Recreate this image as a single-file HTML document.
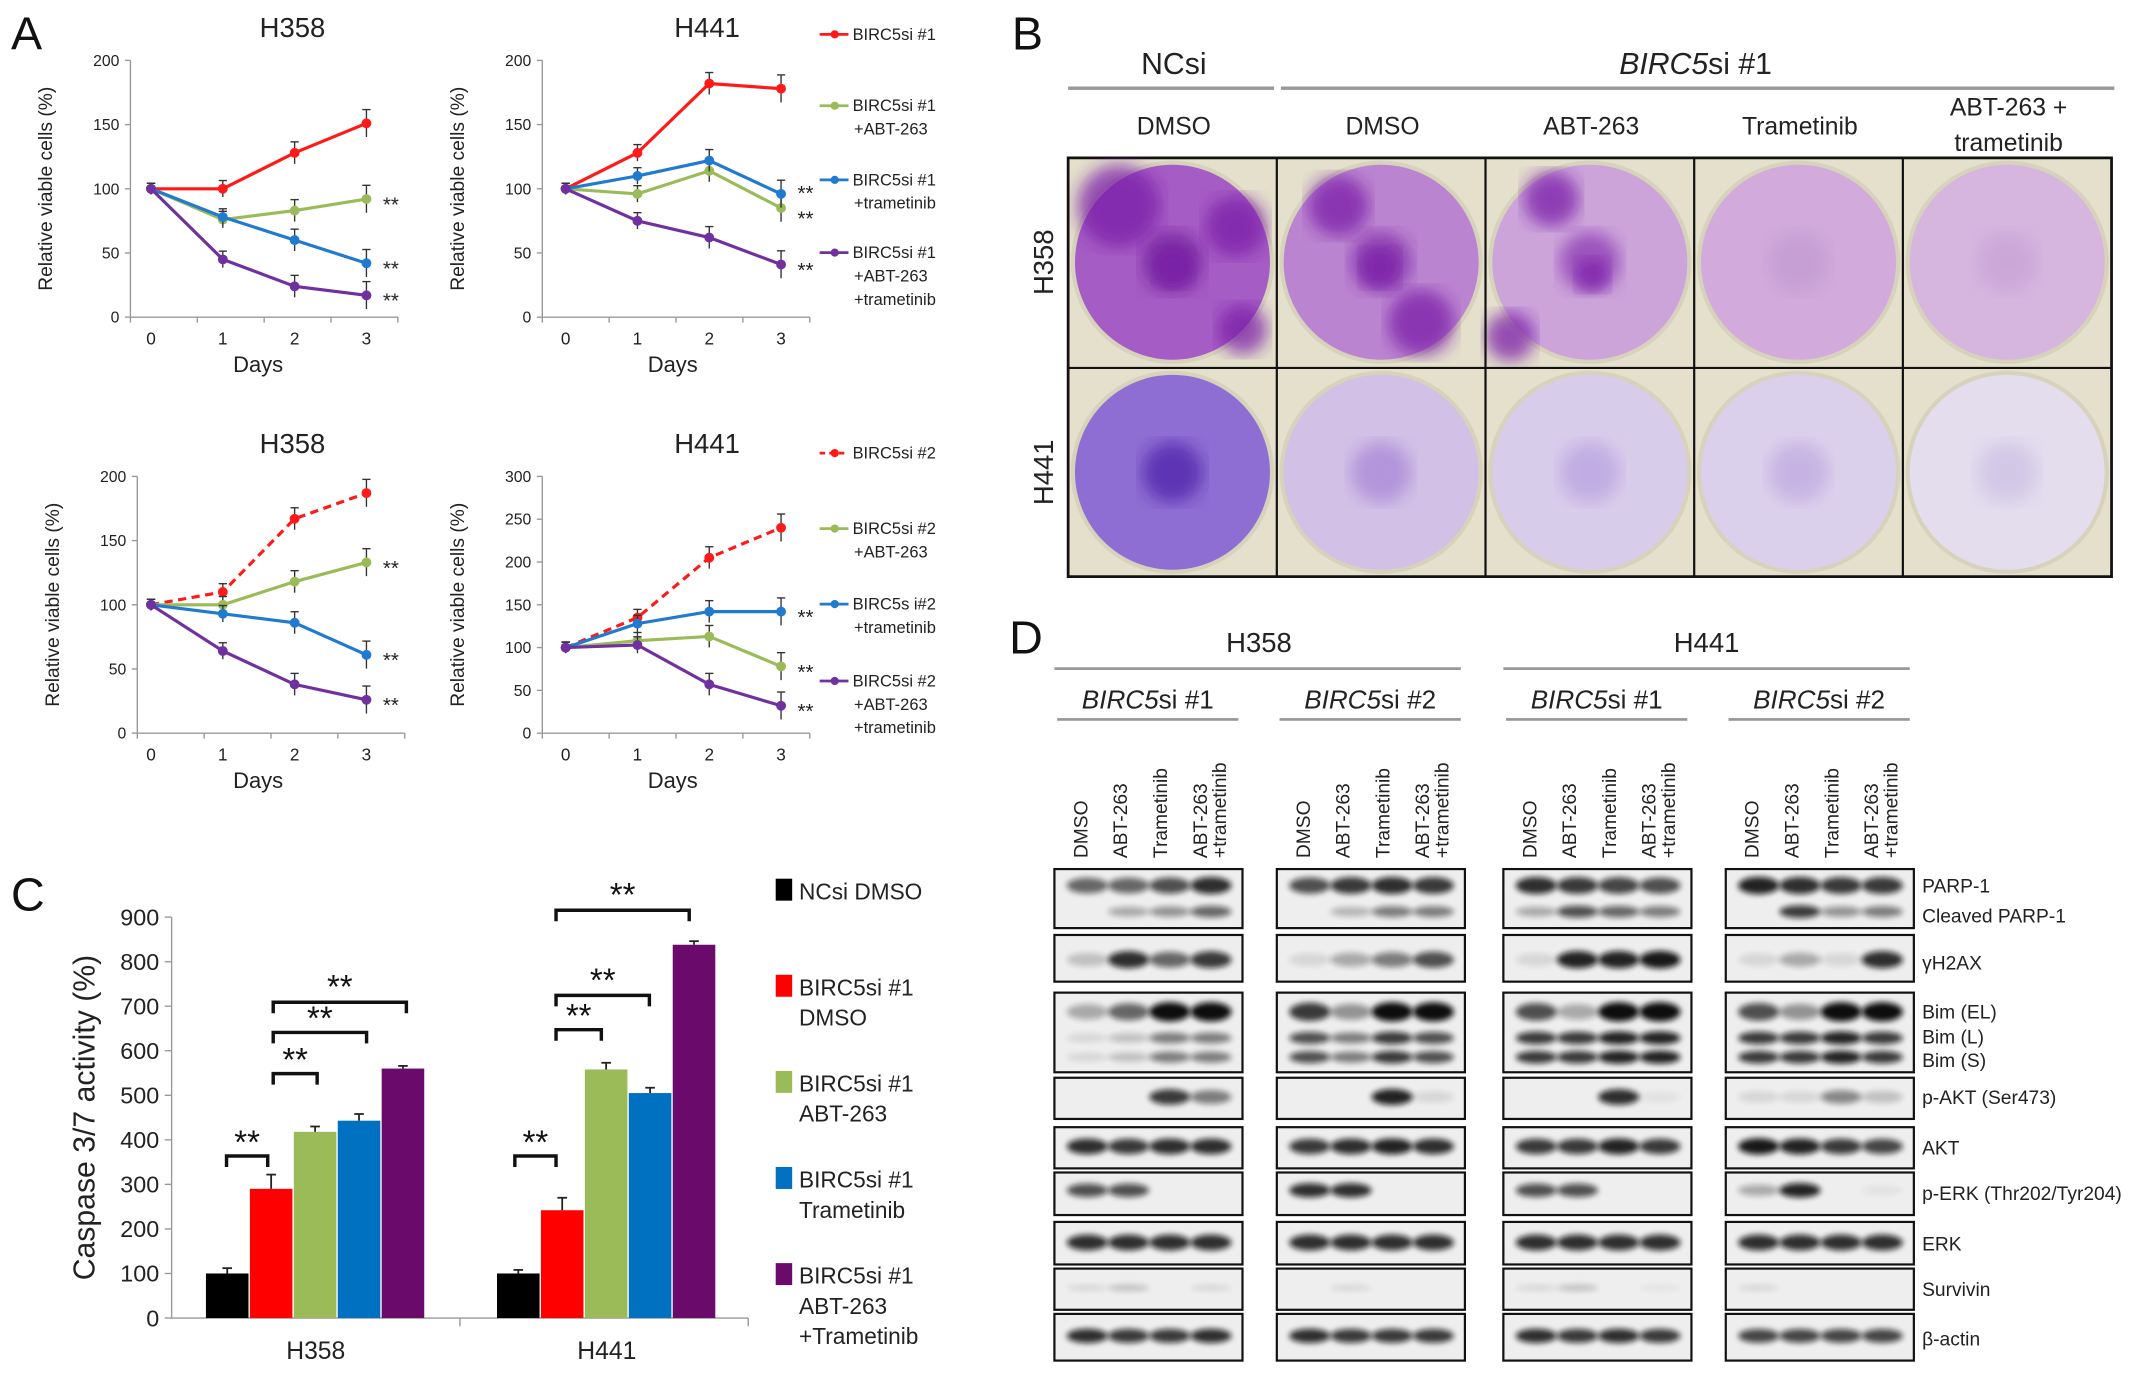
<!DOCTYPE html>
<html><head><meta charset="utf-8">
<style>
html,body{margin:0;padding:0;background:#fff;}
svg{display:block;font-family:"Liberation Sans",sans-serif;}
</style></head>
<body>
<svg id="fig" width="2150" height="1375" viewBox="0 0 1566 1001.5" preserveAspectRatio="none" xmlns="http://www.w3.org/2000/svg">
<defs>
<filter id="blur" x="-30%" y="-100%" width="160%" height="300%"><feGaussianBlur stdDeviation="2.2"/></filter>
<filter id="blur2"><feGaussianBlur stdDeviation="6"/></filter>
<filter id="blur3"><feGaussianBlur stdDeviation="1.2"/></filter>
</defs>
<g id="layer"></g>
</svg>
<script>
// ---------- Panel A data ----------
const days = [0,1,2,3];
const a1Red = [100,100,128,151], a1Green=[100,76,83,92], a1Blue=[100,78,60,42], a1Purple=[100,45,24,17];
const a2Red = [100,128,182,178], a2Green=[100,96,114,85], a2Blue=[100,110,122,96], a2Purple=[100,75,62,41];
const a3Red = [100,110,167,187], a3Green=[100,100,118,133], a3Blue=[100,93,86,61], a3Purple=[100,64,38,26];
const a4Red = [100,135,205,240], a4Green=[100,108,113,78], a4Blue=[100,128,142,142], a4Purple=[100,103,57,32];
const ticks200 = [0,50,100,150,200];
const ticks300 = [0,50,100,150,200,250,300];
// ---------- Panel C data ----------
const cGroups = ["H358","H441"];
const cH358 = [100,290,418,443,560];
const cH441 = [100,242,558,505,838];
const cErrH358 = [12,32,12,15,6];
const cErrH441 = [8,28,15,12,8];
const cTicks = [0,100,200,300,400,500,600,700,800,900];
const cLegend = [["NCsi DMSO"],["BIRC5si #1","DMSO"],["BIRC5si #1","ABT-263"],["BIRC5si #1","Trametinib"],["BIRC5si #1","ABT-263","+Trametinib"]];
// ---------- Panel D band intensities (16 lanes) ----------
const bParp = [.6,.6,.7,.85, .7,.8,.85,.8, .85,.8,.75,.7, .9,.85,.8,.8];
const bCleaved = [0,.3,.4,.6, 0,.25,.5,.5, .3,.7,.6,.5, 0,.8,.4,.5];
const bH2ax = [.2,.85,.6,.8, .1,.3,.5,.7, .1,.9,.9,.95, .1,.3,.1,.85];
const bBimEL = [.3,.6,1,1, .8,.4,1,1, .7,.3,1,1, .7,.4,1,1];
const bBimL = [.1,.2,.5,.5, .7,.5,.8,.7, .8,.8,.9,.9, .8,.8,.9,.8];
const bPakt = [0,0,.8,.5, 0,0,.9,.1, 0,0,.85,.05, .1,.1,.45,.2];
const bAkt = [.85,.8,.85,.85, .8,.85,.9,.85, .8,.8,.9,.8, .95,.9,.8,.75];
const bPerk = [.7,.7,0,0, .85,.85,0,0, .7,.7,0,0, .3,.9,0,.05];
const bErk = [.85,.85,.85,.85, .85,.85,.85,.85, .85,.85,.85,.85, .85,.85,.85,.85];
const bSurv = [.1,.2,0,.1, 0,.1,0,0, .1,.2,0,.05, .1,0,0,0];
const bActin = [.85,.8,.8,.85, .85,.8,.8,.8, .85,.8,.85,.8, .75,.75,.75,.75];

const NS="http://www.w3.org/2000/svg";
const root=document.getElementById('layer');
function el(tag,attrs,parent,text){const e=document.createElementNS(NS,tag);for(const k in attrs)e.setAttribute(k,attrs[k]);if(text!==undefined)e.textContent=text;(parent||root).appendChild(e);return e;}
function txt(x,y,s,size,opts,parent){opts=opts||{};const t=el('text',Object.assign({x:x,y:y,'font-size':size,'text-anchor':opts.anchor||'middle',fill:opts.fill||'#222'},opts.extra||{}),parent,s);return t;}

[["A",8,36],["B",737,36],["C",8,663],["D",735,476]].forEach(p=>{const t=txt(p[1],p[2],p[0],34,{anchor:'start',fill:'#111'});});

// ---------- Line charts ----------
const COL={red:'#ff1a1a',green:'#9bbb59',blue:'#1f7ad0',purple:'#7030a0'};
function lineChart(name,ax,x0,top,bottom,ymax,yticks,title,series,stars){
  const g=el('g',{});
  const xs=d=>x0+15+d*52.3; const ys=v=>bottom-(v/ymax)*(bottom-top);
  const tt=txt(x0+118,top-17,title,20,{fill:'#222'},g);
  el('line',{x1:ax,y1:top,x2:ax,y2:bottom,stroke:'#999','stroke-width':1},g);
  el('line',{x1:ax,y1:bottom,x2:ax+195,y2:bottom,stroke:'#999','stroke-width':1},g);
  yticks.forEach(v=>{el('line',{x1:ax-4,y1:ys(v),x2:ax,y2:ys(v),stroke:'#999'},g);const t=txt(ax-8,ys(v)+4,String(v),11.5,{anchor:'end'},g);});
  for(let i=0;i<=4;i++){const xx=ax+i*48.7;el('line',{x1:xx,y1:bottom,x2:xx,y2:bottom+4,stroke:'#999'},g);}
  days.forEach(d=>{const t=txt(xs(d),bottom+20,String(d),12.5,{},g);});
  const xt=txt(x0+93,bottom+40,'Days',16,{},g);
  const yt=txt(0,0,'Relative viable cells (%)',14,{extra:{transform:`translate(${ax-57},${(top+bottom)/2}) rotate(-90)`}},g);
  series.forEach(s=>{
    const pts=s.vals.map((v,i)=>xs(days[i])+','+ys(v)).join(' ');
    const pl=el('polyline',{points:pts,fill:'none',stroke:COL[s.c],'stroke-width':2.3,'stroke-dasharray':s.dash?'6,4':'none'},g);
    
    s.vals.forEach((v,i)=>{const x=xs(days[i]),y=ys(v),e=4+(i*2);
      el('line',{x1:x,y1:y-e,x2:x,y2:y+e,stroke:'#333','stroke-width':1},g);
      el('line',{x1:x-3,y1:y-e,x2:x+3,y2:y-e,stroke:'#333','stroke-width':1},g);
      const m=el('circle',{cx:x,cy:y,r:3.6,fill:COL[s.c]},g);});
  });
  stars.forEach(v=>{const t=txt(xs(3)+12,ys(v)+9,'**',15,{anchor:'start',fill:'#222'},g);});
}
lineChart('chart-h358-si1',95,95,44,231,200,ticks200,'H358',[{vals:a1Red,c:'red'},{vals:a1Green,c:'green'},{vals:a1Blue,c:'blue'},{vals:a1Purple,c:'purple'}],[a1Green[3],a1Blue[3],a1Purple[3]]);
lineChart('chart-h441-si1',395,397,44,231,200,ticks200,'H441',[{vals:a2Red,c:'red'},{vals:a2Green,c:'green'},{vals:a2Blue,c:'blue'},{vals:a2Purple,c:'purple'}],[a2Blue[3]+5,a2Green[3]-4,a2Purple[3]]);
lineChart('chart-h358-si2',100,95,347,534,200,ticks200,'H358',[{vals:a3Red,c:'red',dash:1},{vals:a3Green,c:'green'},{vals:a3Blue,c:'blue'},{vals:a3Purple,c:'purple'}],[a3Green[3],a3Blue[3],a3Purple[3]]);
lineChart('chart-h441-si2',395,397,347,534,300,ticks300,'H441',[{vals:a4Red,c:'red',dash:1},{vals:a4Green,c:'green'},{vals:a4Blue,c:'blue'},{vals:a4Purple,c:'purple'}],[a4Blue[3],a4Green[3],a4Purple[3]]);

function lineLegend(y,c,lines,dash){
  const g=el('g',{});
  el('line',{x1:597,y1:y,x2:618,y2:y,stroke:COL[c],'stroke-width':2,'stroke-dasharray':dash?'4,3':'none'},g);
  el('circle',{cx:608,cy:y,r:3,fill:COL[c]},g);
  lines.forEach((s,i)=>txt(i?622:621,y+4+i*17,s,12,{anchor:'start',fill:'#222'},g));
}
lineLegend(25,'red',['BIRC5si #1']);lineLegend(77,'green',['BIRC5si #1','+ABT-263']);lineLegend(131,'blue',['BIRC5si #1','+trametinib']);lineLegend(184,'purple',['BIRC5si #1','+ABT-263','+trametinib']);
lineLegend(330,'red',['BIRC5si #2'],1);lineLegend(385,'green',['BIRC5si #2','+ABT-263']);lineLegend(440,'blue',['BIRC5s i#2','+trametinib']);lineLegend(496,'purple',['BIRC5si #2','+ABT-263','+trametinib']);

// ---------- Panel B ----------
(function(){
  const g=el('g',{});
  txt(855,54,'NCsi',22,{},g);
  const bt=el('text',{x:1235,y:54,'font-size':22,'text-anchor':'middle',fill:'#222'},g);
  el('tspan',{'font-style':'italic'},bt,'BIRC5');el('tspan',{},bt,'si #1');
  el('rect',{x:778,y:63,width:150,height:2.5,fill:'#999'},g);
  el('rect',{x:933,y:63,width:607,height:2.5,fill:'#999'},g);
  const heads=[["DMSO"],["DMSO"],["ABT-263"],["Trametinib"],["ABT-263 +","trametinib"]];
  heads.forEach((h,i)=>{const cx=855+i*152;if(h.length==1)txt(cx,98,h[0],18,{},g);else{txt(cx,84,h[0],18,{},g);txt(cx,110,h[1],18,{},g);}});
  el('rect',{x:778,y:115,width:760,height:305,fill:'#e4e0cc',stroke:'#111','stroke-width':2},g);
  const fills=[[['#8a2bb0','#a55cc4','#6b1596'],['#a05cc0','#bb84d0','#7a22a5'],['#b27ccb','#cca4da','#8830b0'],['#c9a0d6','#d2abdc','#c19ad2'],['#cfaedb','#d6b6df','#c7a2d6']],
               [['#6b3fc0','#8e6ed2','#4a1aa8'],['#c2a8e0','#d2c0e6','#a583d6'],['#cfbde6','#d8cceb','#b8a0e0'],['#d2c4e6','#dbd0ec','#bfa8e0'],['#ddd6ea','#e3ddee','#ccc0e4']]];
  for(let r=0;r<2;r++)for(let c=0;c<5;c++){
    const cx=854+c*152, cy=191+r*153;
    el('circle',{cx:cx,cy:cy,r:74,fill:'#d6d2bc'},g);
    const ci=el('circle',{cx:cx,cy:cy,r:71,fill:fills[r][c][1]},g);
    el('circle',{cx:cx,cy:cy,r:22,fill:fills[r][c][2],opacity:.7,filter:'url(#blur2)'},g);
  }
  [[815,150,30],[900,165,22],[905,240,18],[975,150,22],[1035,235,24],[1130,145,20],[1100,245,18],[855,195,14],[1005,195,14],[1160,200,12]].forEach(p=>el('circle',{cx:p[0],cy:p[1],r:p[2],fill:'#7a1fa8',opacity:.75,filter:'url(#blur2)'},g));
  for(let c=1;c<5;c++)el('line',{x1:778+c*152,y1:115,x2:778+c*152,y2:420,stroke:'#111','stroke-width':1.6},g);
  el('line',{x1:778,y1:268,x2:1538,y2:268,stroke:'#111','stroke-width':1.6},g);
  txt(0,0,'H358',20,{extra:{transform:'translate(767,191) rotate(-90)'}},g);
  txt(0,0,'H441',20,{extra:{transform:'translate(767,344) rotate(-90)'}},g);
})();

// ---------- Panel C ----------
(function(){
  const g=el('g',{});
  const y0=960, yTop=668, vmax=900, ys=v=>y0-v/vmax*(y0-yTop);
  el('line',{x1:125,y1:yTop,x2:125,y2:y0,stroke:'#999'},g);
  el('line',{x1:125,y1:y0,x2:545,y2:y0,stroke:'#999'},g);
  el('line',{x1:335,y1:y0,x2:335,y2:y0+6,stroke:'#999'},g);el('line',{x1:545,y1:y0,x2:545,y2:y0+6,stroke:'#999'},g);
  cTicks.forEach(v=>{el('line',{x1:120,y1:ys(v),x2:125,y2:ys(v),stroke:'#999'},g);const t=txt(116,ys(v)+6,String(v),17,{anchor:'end'},g);});
  const yt=txt(0,0,'Caspase 3/7 activity (%)',22,{extra:{transform:`translate(69,${(y0+yTop)/2}) rotate(-90)`}},g);
  const cols=['#000','#ff0000','#9bbb59','#0070c0','#6a0a6a'];
  [cH358,cH441].forEach((vals,gi)=>{
    const base=150+gi*212;const errs=gi?cErrH441:cErrH358;
    vals.forEach((v,i)=>{const x=base+i*32;const r=el('rect',{x:x,y:ys(v),width:31,height:y0-ys(v),fill:cols[i]},g);
      const ye=ys(v+errs[i]);el('line',{x1:x+15.5,y1:ys(v),x2:x+15.5,y2:ye,stroke:'#222','stroke-width':1.3},g);el('line',{x1:x+12,y1:ye,x2:x+19,y2:ye,stroke:'#222','stroke-width':1.3},g);});
    const t=txt(base+80,990,cGroups[gi],18,{},g);
  });
  function br(x1,x2,y,sy){const p=el('path',{d:`M${x1},${y+8} L${x1},${y} L${x2},${y} L${x2},${y+8}`,fill:'none',stroke:'#111','stroke-width':2.5},g);txt((x1+x2)/2,sy,'**',24,{fill:'#111'},g);}
  br(165,195,842,840);br(199,231,782,780);br(199,267,752,750);br(199,296,730,727);
  br(375,405,842,840);br(405,438,750,748);br(405,473,725,722);br(405,502,663,660);
  cLegend.forEach((l,i)=>{const y=648+i*70;const lg=el('g',{},g);
    el('rect',{x:565,y:y-8,width:12,height:16,fill:cols[i]},lg);
    l.forEach((s,j)=>txt(582,y+7+j*22,s,16.5,{anchor:'start',fill:'#222'},lg));});
})();

// ---------- Panel D ----------
(function(){
  const g=el('g',{});
  txt(917,475,'H358',20,{},g);txt(1243,475,'H441',20,{},g);
  el('rect',{x:768,y:486,width:296,height:2,fill:'#999'},g);el('rect',{x:1095,y:486,width:296,height:2,fill:'#999'},g);
  const gx=[768,930,1095,1257];
  gx.forEach((x,i)=>{const t=el('text',{x:x+68,y:516,'font-size':19,'text-anchor':'middle',fill:'#222'},g);el('tspan',{'font-style':'italic'},t,'BIRC5');el('tspan',{},t,'si #'+(i%2+1));
    el('rect',{x:x+2,y:523,width:132,height:2,fill:'#999'},g);
    const lanes=['DMSO','ABT-263','Trametinib','ABT-263'];
    lanes.forEach((l,j)=>{const lx=x+24+j*29;txt(0,0,l,14,{anchor:'start',extra:{transform:`translate(${lx},${625}) rotate(-90)`}},g);});
    txt(0,0,'+trametinib',14,{anchor:'start',extra:{transform:`translate(${x+24+3*29+14},${625}) rotate(-90)`}},g);
  });
  const rows=[[633,676],[681,715],[723,781],[785,815],[821,851],[854,885],[890,921],[924,954],[957,991]];
  const bandRows=[[bParp,645,9],[bCleaved,664,6],[bH2ax,699,9],[bBimEL,737,10],[bBimL,756,6],[bBimL,770,6],[bPakt,799,8],[bAkt,835,8],[bPerk,867,7],[bErk,905,8],[bSurv,938,4],[bActin,973,7]];
  gx.forEach((x,gi)=>{
    rows.forEach(r=>{const b=el('rect',{x:x,y:r[0],width:137,height:r[1]-r[0],fill:'#eeeeee',stroke:'#111','stroke-width':1.6},g);});
  });
  bandRows.forEach(br=>{br[0].forEach((v,i)=>{if(v<=0)return;const gi=Math.floor(i/4),j=i%4;const cx=gx[gi]+24+j*30;
    const e=el('ellipse',{cx:cx,cy:br[1],rx:15,ry:br[2]/2+v*2,fill:'#111',opacity:v,filter:'url(#blur)'},g);});});
  const labels=[['PARP-1',650],['Cleaved PARP-1',672],['γH2AX',706],['Bim (EL)',742],['Bim (L)',760],['Bim (S)',777],['p-AKT (Ser473)',804],['AKT',841],['p-ERK (Thr202/Tyr204)',874],['ERK',911],['Survivin',944],['β-actin',980]];
  labels.forEach(l=>{const t=txt(1400,l[1],l[0],14,{anchor:'start'},g);});
})();
</script>
</body></html>
